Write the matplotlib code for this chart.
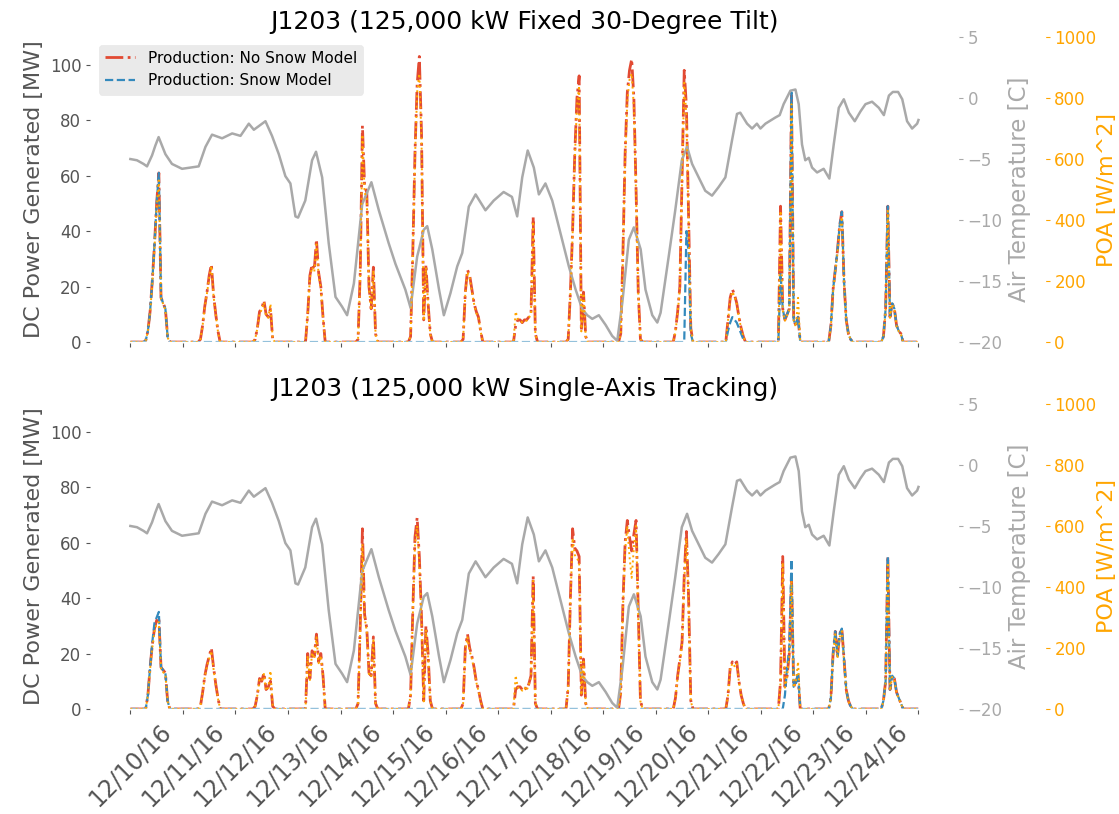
import numpy as np
import pandas as pd
import matplotlib
matplotlib.use("Agg")
import matplotlib.pyplot as plt

# ---------------------------------------------------------
# data (hourly values for hours 7..17 of each day)
# ---------------------------------------------------------
days = pd.date_range("2016-12-10", periods=16, freq="D")
day_labels = [d.strftime("%m/%d/%y") for d in days[:-1]] + [""]
sun_hours = list(range(7, 18))
zero_day = [0] * 11

fixed_nosnow = [
    [0.5, 4, 11, 22, 35, 50, 61, 16, 14, 12, 2],
    [0, 1, 6, 13, 18, 24, 28, 17, 10, 4, 0],
    [0, 0, 1, 5, 11, 12, 15, 10, 9, 12, 1],
    [0, 0, 10, 24, 28, 26, 37, 25, 20, 9, 0],
    [0, 1, 25, 78, 56, 54, 20, 12, 27, 3, 0],
    [0, 2, 32, 68, 93, 103, 75, 8, 28, 14, 3],
    [0, 1, 18, 26, 24, 19, 14, 11, 9, 4, 0],
    [0, 6, 8, 8, 7, 8, 8, 9, 10, 45, 3],
    [0, 1, 18, 40, 68, 88, 96, 4, 18, 2, 0],
    [0, 3, 32, 68, 90, 98, 102, 88, 55, 18, 1],
    [0, 0, 4, 11, 20, 60, 98, 85, 45, 5, 0],
    [0, 0, 8, 16, 19, 17, 14, 9, 5, 2, 0],
    [0, 0, 49, 12, 8, 10, 12, 90, 8, 6, 9],
    [0, 6, 19, 26, 33, 42, 47, 22, 8, 3, 1],
    [0, 2, 12, 49, 9, 14, 12, 6, 4, 3, 0],
]

fixed_snow = [
    [0.5, 4, 11, 22, 35, 50, 61, 16, 14, 12, 2],
    zero_day, zero_day, zero_day, zero_day, zero_day,
    zero_day, zero_day, zero_day, zero_day,
    [0, 0, 0, 0, 0, 0, 0, 40, 32, 3, 0],
    [0, 0, 4, 7, 9, 8, 7, 5, 3, 1, 0],
    [0, 0, 25, 12, 8, 10, 12, 90, 8, 6, 9],
    [0, 6, 19, 26, 33, 42, 47, 22, 8, 3, 1],
    [0, 2, 12, 49, 9, 14, 12, 6, 4, 3, 0],
]

fixed_poa = [
    [5, 35, 95, 190, 305, 440, 530, 140, 125, 105, 15],
    [0, 10, 55, 115, 160, 210, 250, 150, 90, 35, 0],
    [0, 0, 10, 45, 95, 105, 130, 85, 80, 125, 10],
    [0, 0, 90, 210, 245, 230, 320, 220, 175, 80, 0],
    [0, 10, 215, 680, 490, 470, 175, 105, 235, 25, 0],
    [0, 18, 280, 600, 820, 880, 660, 70, 245, 125, 25],
    [0, 10, 160, 230, 210, 165, 125, 95, 80, 35, 0],
    [0, 100, 75, 70, 65, 70, 70, 80, 90, 395, 25],
    [0, 10, 160, 350, 600, 775, 840, 35, 160, 18, 0],
    [0, 25, 280, 600, 790, 860, 880, 770, 480, 160, 10],
    [0, 0, 35, 95, 175, 530, 850, 740, 395, 45, 0],
    [0, 0, 70, 140, 165, 150, 125, 80, 45, 18, 0],
    [0, 0, 430, 105, 70, 88, 105, 780, 70, 50, 145],
    [0, 50, 165, 230, 290, 370, 410, 195, 70, 25, 10],
    [0, 18, 105, 430, 80, 125, 105, 52, 35, 25, 0],
]

tracking_nosnow = [
    [0, 5, 15, 23, 29, 32, 33, 15, 14, 13, 3],
    [0, 1, 6, 12, 16, 19, 22, 15, 9, 4, 0],
    [0, 0, 1, 5, 11, 10, 13, 7, 8, 10, 1],
    [0, 0, 20, 11, 21, 19, 27, 17, 20, 12, 0],
    [0, 2, 30, 65, 34, 29, 13, 12, 26, 2, 0],
    [0, 5, 35, 62, 69, 55, 33, 3, 30, 20, 3],
    [0, 2, 22, 27, 22, 19, 15, 10, 7, 3, 0],
    [0, 7, 8, 8, 7, 8, 7, 9, 12, 48, 2],
    [0, 8, 40, 65, 58, 57, 55, 5, 18, 2, 0],
    [0, 6, 38, 60, 68, 62, 57, 63, 68, 35, 3],
    [0, 0, 4, 12, 18, 24, 48, 64, 40, 3, 0],
    [0, 0, 5, 15, 17, 16, 17, 10, 5, 2, 0],
    [0, 0, 10, 55, 8, 12, 20, 48, 8, 10, 12],
    [0, 4, 20, 28, 19, 27, 29, 18, 7, 3, 1],
    [0, 3, 10, 55, 7, 12, 11, 6, 4, 2, 0],
]

tracking_snow = [
    [0, 5, 15, 24, 31, 33, 35, 15, 14, 13, 3],
    zero_day, zero_day, zero_day, zero_day, zero_day, zero_day,
    zero_day, zero_day, zero_day, zero_day, zero_day,
    [0, 0, 0, 0, 5, 15, 22, 54, 8, 9, 13],
    [0, 4, 20, 28, 19, 27, 29, 18, 7, 3, 1],
    [0, 3, 10, 55, 7, 12, 11, 6, 4, 2, 0],
]

tracking_poa = [
    [0, 45, 130, 200, 255, 280, 285, 130, 120, 115, 25],
    [0, 10, 55, 105, 140, 165, 190, 130, 80, 35, 0],
    [0, 0, 10, 45, 95, 90, 115, 60, 70, 125, 10],
    [0, 0, 175, 95, 185, 165, 235, 150, 175, 105, 0],
    [0, 18, 260, 540, 300, 255, 115, 105, 225, 18, 0],
    [0, 45, 305, 540, 600, 480, 290, 25, 260, 175, 25],
    [0, 18, 190, 235, 190, 165, 130, 88, 60, 25, 0],
    [0, 110, 70, 70, 60, 70, 60, 80, 105, 420, 20],
    [0, 70, 350, 560, 505, 495, 480, 45, 155, 18, 0],
    [0, 50, 330, 520, 600, 500, 430, 530, 600, 300, 25],
    [0, 0, 35, 105, 155, 210, 420, 560, 350, 25, 0],
    [0, 0, 45, 130, 150, 140, 150, 88, 45, 18, 0],
    [0, 0, 88, 480, 70, 105, 175, 420, 70, 88, 155],
    [0, 35, 175, 245, 165, 235, 255, 155, 60, 25, 10],
    [0, 25, 88, 480, 60, 105, 95, 52, 35, 18, 0],
]

# air temperature readings: hours since 12/10 00:00 and degrees C
temp_hours = [0, 3, 6, 7.6, 9.9, 11.4, 12.9, 16.0, 19.0, 23.6, 27.4, 31.2, 34.3, 37.3,
              41.9, 46.5, 50.3, 54.1, 56.4, 61.7, 64.7, 67.8, 70.8, 73.1, 75.4, 76.6,
              79.9, 83.0, 84.8, 87.6, 90.6, 93.7, 96.7, 99.0, 102.1, 105.9, 110.1, 113.5,
              118.0, 121.1, 125.6, 128.0, 131.0, 134.0, 135.6, 137.9, 141.0, 143.2, 146.2,
              149.3, 151.6, 154.6, 157.7, 162.2, 166.0, 170.5, 174.3, 176.7, 179.0, 181.5,
              184.3, 186.6, 189.6, 192.7, 196.5, 200.3, 203.4, 206.4, 208.7, 211.0, 214.0,
              217.1, 220.1, 222.4, 224.7, 227.7, 230.0, 233.1, 235.3, 238.4, 240.7, 242.2,
              245.9, 248.9, 251.9, 254.3, 256.6, 259.6, 262.6, 265.7, 268.7, 271.8, 274.8,
              277.1, 278.6, 281.7, 284.0, 286.2, 287.8, 290.1, 294.6, 296.6, 298.4, 301.5,
              303.8, 305.3, 306.8, 308.3, 309.9, 311.4, 313.7, 316.7, 319.3, 321.3, 323.6,
              325.9, 328.2, 330.9, 333.5, 335.8, 338.8, 341.9, 344.2, 346.5, 348.3, 350.7,
              352.6, 354.8, 357.1, 359.4, 360.0]
temp_c = [-5.0, -5.1, -5.4, -5.6, -4.7, -3.9, -3.2, -4.6, -5.4, -5.8, -5.7, -5.6, -4.0, -3.0,
          -3.3, -2.9, -3.1, -2.1, -2.6, -1.9, -3.1, -4.6, -6.4, -7.0, -9.7, -9.8,
          -8.4, -5.1, -4.4, -6.5, -11.9, -16.3, -17.1, -17.8, -15.2, -8.7, -6.9, -9.2,
          -11.9, -13.6, -15.7, -17.2, -13.0, -10.8, -10.5, -12.4, -15.7, -17.8, -16.0,
          -13.8, -12.7, -8.9, -7.9, -9.2, -8.4, -7.7, -8.1, -9.7, -6.5, -4.3,
          -5.7, -7.9, -7.0, -8.4, -11.1, -13.8, -15.7, -17.3, -17.8, -18.1, -17.8,
          -18.6, -19.5, -19.9, -16.8, -11.6, -10.6, -12.4, -15.7, -17.8, -18.4, -17.6,
          -13.0, -9.2, -5.1, -4.0, -5.4, -6.5, -7.6, -8.0, -7.3, -6.5, -3.5,
          -1.3, -1.2, -2.1, -2.5, -2.1, -2.5, -2.1, -1.6, -1.4, -0.5, 0.6,
          0.7, -0.5, -3.8, -5.1, -4.9, -5.7, -6.1, -5.8, -6.6, -3.8, -0.8,
          -0.1, -1.2, -1.9, -1.1, -0.5, -0.3, -0.8, -1.4, 0.2, 0.5, 0.5,
          -0.1, -1.9, -2.5, -2.1, -1.8]

panel_titles = ["J1203 (125,000 kW Fixed 30-Degree Tilt)",
                "J1203 (125,000 kW Single-Axis Tracking)"]


def hourly(profiles):
    vals = np.zeros(15 * 24 + 1)
    for d, prof in enumerate(profiles):
        for h, v in zip(sun_hours, prof):
            vals[d * 24 + h] = v
    return vals


times = pd.date_range("2016-12-10", periods=361, freq="h")
temp_times = days[0] + pd.to_timedelta(temp_hours, unit="h")

panels = [
    (hourly(fixed_nosnow), hourly(fixed_snow), hourly(fixed_poa)),
    (hourly(tracking_nosnow), hourly(tracking_snow), hourly(tracking_poa)),
]

# ---------------------------------------------------------
# plot
# ---------------------------------------------------------
plt.style.use("ggplot")
plt.rcParams["axes.facecolor"] = "white"
plt.rcParams["axes.grid"] = False

fig, axes = plt.subplots(2, 1, figsize=(11.19, 8.14), dpi=100, sharex=True)
fig.subplots_adjust(left=0.0813, right=0.856, top=0.9545, bottom=0.129, hspace=0.203)

for i, (ax, (nosnow, snow, poa)) in enumerate(zip(axes, panels)):
    ax.plot(times, nosnow, color="#E24A33", ls="-.", lw=2,
            label="Production: No Snow Model")
    ax.plot(times, snow, color="#348ABD", ls="--", lw=1.6,
            label="Production: Snow Model")
    ax.set_ylim(0, 110)
    ax.set_yticks([0, 20, 40, 60, 80, 100])
    ax.set_ylabel("DC Power Generated [MW]", fontsize=16, color="#555555")
    ax.tick_params(axis="y", labelsize=12)
    ax.set_title(panel_titles[i], fontsize=18, color="black")

    ax2 = ax.twinx()
    ax2.plot(temp_times, temp_c, color="darkgrey", lw=1.8)
    ax2.set_ylim(-20, 5)
    ax2.set_yticks([-20, -15, -10, -5, 0, 5])
    ax2.set_ylabel("Air Temperature [C]", fontsize=16.5, color="darkgrey")
    ax2.tick_params(axis="y", colors="darkgrey", labelsize=12)

    ax3 = ax.twinx()
    ax3.spines["right"].set_position(("axes", 1.1))
    ax3.plot(times, poa, color="orange", ls=":", lw=1.4)
    ax3.set_ylim(0, 1000)
    ax3.set_yticks([0, 200, 400, 600, 800, 1000])
    ax3.set_ylabel("POA [W/m^2]", fontsize=16, color="orange", labelpad=0.5)
    ax3.tick_params(axis="y", colors="orange", labelsize=12)

    if i == 0:
        ax.legend(loc="upper left", fontsize=11, facecolor="#E5E5E5",
                  edgecolor="#E5E5E5")

axes[1].set_xticks(days)
axes[1].set_xticklabels(day_labels, rotation=45, fontsize=17)

plt.savefig("out.png", dpi=100)
